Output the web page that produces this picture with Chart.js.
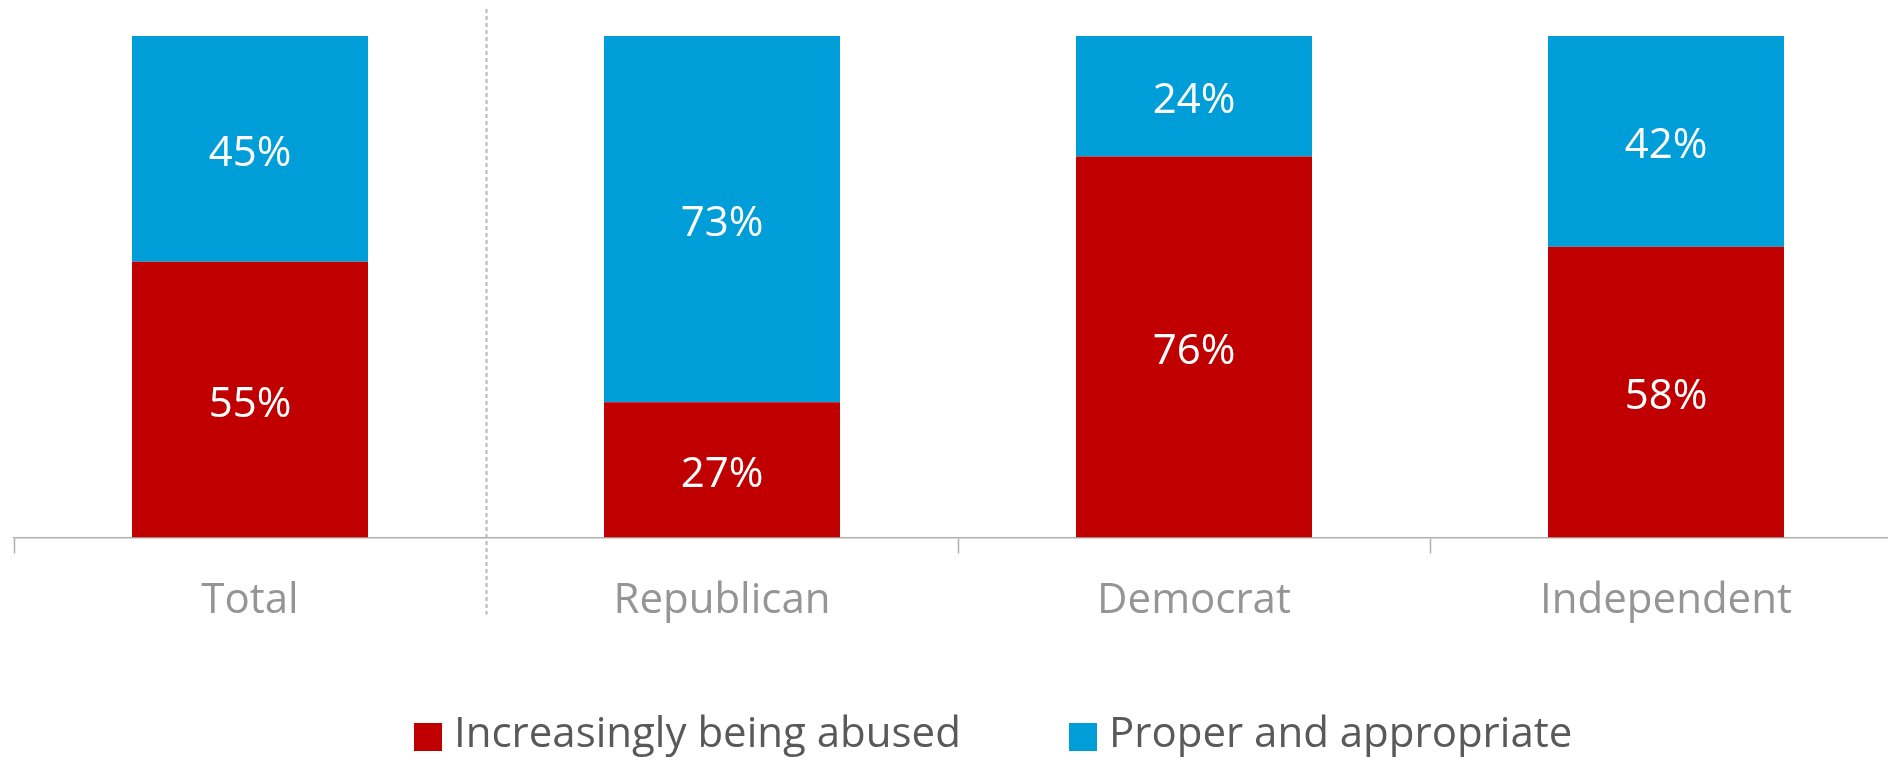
<!DOCTYPE html>
<html>
<head>
<meta charset="utf-8">
<script src="https://cdn.jsdelivr.net/npm/chart.js@4/dist/chart.umd.min.js"></script>
<style>
  html, body { margin: 0; padding: 0; background: #fff; overflow: hidden; }
  #wrap { width: 1902px; height: 760px; }
</style>
</head>
<body>
<div id="wrap"><canvas id="chart" width="1902" height="760"></canvas></div>
<script>
const categories = ["Total", "Republican", "Democrat", "Independent"]
const abused = [55, 27, 76, 58]
const appropriate = [45, 73, 24, 42]
const seriesNames = ["Increasingly being abused", "Proper and appropriate"]

const RED = "#c00000"
const BLUE = "#009ed8"
const FONT = "'Open Sans', sans-serif"

// Valores no meio de cada segmento
const valueLabels = {
  id: "valueLabels",
  afterDatasetsDraw(chart) {
    const ctx = chart.ctx
    ctx.save()
    ctx.font = `42px ${FONT}`
    ctx.fillStyle = "#fff"
    ctx.textAlign = "center"
    ctx.textBaseline = "middle"
    chart.data.datasets.forEach((ds, di) => {
      chart.getDatasetMeta(di).data.forEach((bar, i) => {
        ctx.fillText(ds.data[i] + "%", bar.x, (bar.y + bar.base) / 2 + 5)
      })
    })
    ctx.restore()
  }
}

// Separador tracejado entre "Total" e os partidos + legenda
const extras = {
  id: "extras",
  afterDraw(chart) {
    const ctx = chart.ctx
    const area = chart.chartArea
    const x = Math.round(chart.scales.x.getPixelForValue(0.5)) + 0.5
    ctx.save()
    ctx.strokeStyle = "#b8b8b8"
    ctx.lineWidth = 2
    ctx.setLineDash([4, 3])
    ctx.beginPath()
    ctx.moveTo(x, area.top - 27)
    ctx.lineTo(x, area.bottom + 77)
    ctx.stroke()
    ctx.setLineDash([])

    // legenda
    ctx.font = `42px ${FONT}`
    ctx.textBaseline = "middle"
    ctx.textAlign = "left"
    const starts = [414, 1069]
    const y = 737
    chart.data.datasets.forEach((ds, i) => {
      ctx.fillStyle = ds.backgroundColor
      ctx.fillRect(starts[i], y - 14, 28, 28)
      ctx.fillStyle = "#595959"
      ctx.fillText(ds.label, starts[i] + 40, y - 2)
    })
    ctx.restore()
  }
}

new Chart(document.getElementById("chart"), {
  type: "bar",
  data: {
    labels: categories,
    datasets: [
      { label: seriesNames[0], data: abused, backgroundColor: RED, borderWidth: 0 },
      { label: seriesNames[1], data: appropriate, backgroundColor: BLUE, borderWidth: 0 }
    ]
  },
  options: {
    responsive: false,
    animation: false,
    events: [],
    layout: { padding: { left: 14, top: 36, right: 0, bottom: 112 } },
    datasets: { bar: { categoryPercentage: 1, barPercentage: 0.5 } },
    plugins: { legend: { display: false }, tooltip: { enabled: false } },
    scales: {
      x: {
        stacked: true,
        grid: {
          drawOnChartArea: false,
          drawTicks: true,
          tickLength: 16,
          tickWidth: 1.5,
          tickColor: (c) => (c.index === 1 ? "transparent" : "#b0b0b0")
        },
        border: { color: "#b0b0b0", width: 1.5 },
        ticks: { color: "#959595", padding: 22, font: { family: FONT, size: 42 } }
      },
      y: {
        stacked: true,
        display: false,
        min: 0,
        max: 100
      }
    }
  },
  plugins: [valueLabels, extras]
})
</script>
</body>
</html>
